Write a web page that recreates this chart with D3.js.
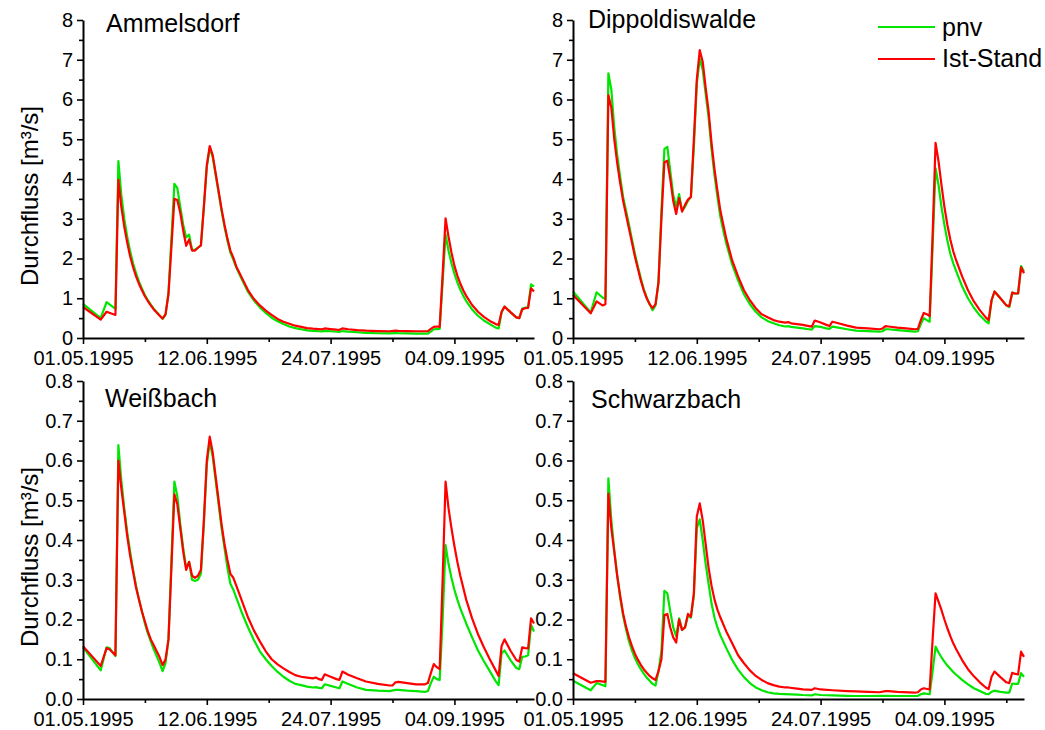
<!DOCTYPE html>
<html><head><meta charset="utf-8">
<script src="https://cdn.jsdelivr.net/npm/d3@7"></script>
<style>
body{margin:0;background:#fff}
svg{display:block;font-family:"Liberation Sans",Arial,sans-serif}
</style></head><body>
<svg id="chart" width="1045" height="730"></svg>
<script>
// ---------- data ----------
const startDate = "1995-05-01";
const endDate = "1995-10-01";
const majorTickDates = ["1995-05-01","1995-06-12","1995-07-24","1995-09-04"];
const minorTickDates = ["1995-05-22","1995-07-03","1995-08-14","1995-09-25"];
const topTicks = [0,1,2,3,4,5,6,7,8];
const topMinorTicks = [0.5,1.5,2.5,3.5,4.5,5.5,6.5,7.5];
const bottomTicks = [0,0.1,0.2,0.3,0.4,0.5,0.6,0.7,0.8];
const bottomMinorTicks = [0.05,0.15,0.25,0.35,0.45,0.55,0.65,0.75];
const panelNames = ["Ammelsdorf","Dippoldiswalde","Weißbach","Schwarzbach"];
const seriesNames = ["pnv","Ist-Stand"];
const yAxisTitle = "Durchfluss [m³/s]";

// [day offset from 01.05.1995, discharge m³/s]
const ammelsdorfPnv = [[0,0.86],[6,0.5],[8,0.9],[11,0.73],[12,4.45],[13,3.6],[14,3.0],[15,2.55],[16,2.18],[17,1.88],[18,1.63],[19,1.42],[20,1.24],[21,1.08],[22,0.95],[23,0.84],[24,0.74],[25,0.65],[26,0.57],[27,0.48],[28,0.58],[29,1.15],[30,2.5],[31,3.88],[32,3.77],[33,3.3],[34,2.85],[35,2.53],[36,2.6],[37,2.22],[38,2.22],[39,2.27],[40,2.33],[41,3.3],[42,4.3],[43,4.78],[44,4.55],[45,4.1],[46,3.65],[47,3.2],[48,2.8],[49,2.45],[50,2.15],[51,1.97],[52,1.77],[54,1.46],[56,1.16],[58,0.94],[60,0.77],[62,0.63],[64,0.51],[66,0.42],[68,0.35],[70,0.29],[72,0.25],[74,0.22],[76,0.19],[78,0.18],[80,0.17],[81,0.165],[82,0.18],[84,0.17],[86,0.16],[87,0.155],[88,0.175],[90,0.16],[93,0.145],[96,0.13],[100,0.12],[104,0.115],[106,0.125],[107,0.12],[110,0.115],[113,0.11],[116,0.11],[117,0.11],[118,0.16],[119,0.22],[120,0.225],[121,0.23],[122,1.4],[123,2.6],[124,2.2],[125,1.88],[126,1.62],[127,1.4],[128,1.22],[129,1.06],[130,0.93],[132,0.72],[134,0.56],[136,0.44],[138,0.35],[140,0.26],[141,0.24],[142,0.64],[143,0.79],[145,0.65],[147,0.52],[148,0.5],[149,0.74],[150,0.76],[151,0.78],[152,1.35],[153,1.3]];
const ammelsdorfIst = [[0,0.78],[6,0.46],[8,0.66],[11,0.58],[12,3.98],[13,3.3],[14,2.8],[15,2.4],[16,2.05],[17,1.78],[18,1.55],[19,1.36],[20,1.2],[21,1.05],[22,0.93],[23,0.82],[24,0.72],[25,0.64],[26,0.56],[27,0.49],[28,0.6],[29,1.1],[30,2.3],[31,3.5],[32,3.47],[33,3.15],[34,2.7],[35,2.32],[36,2.48],[37,2.2],[38,2.2],[39,2.27],[40,2.33],[41,3.3],[42,4.35],[43,4.83],[44,4.6],[45,4.15],[46,3.7],[47,3.25],[48,2.85],[49,2.5],[50,2.2],[51,2.02],[52,1.8],[54,1.5],[56,1.2],[58,0.98],[60,0.82],[62,0.69],[64,0.58],[66,0.48],[68,0.41],[70,0.36],[72,0.31],[74,0.28],[76,0.25],[78,0.235],[80,0.225],[81,0.22],[82,0.24],[84,0.225],[86,0.21],[87,0.205],[88,0.24],[90,0.22],[93,0.2],[96,0.185],[100,0.175],[104,0.17],[106,0.185],[107,0.18],[110,0.175],[113,0.17],[116,0.17],[117,0.175],[118,0.23],[119,0.28],[120,0.29],[121,0.28],[122,1.6],[123,3.01],[124,2.55],[125,2.15],[126,1.82],[127,1.57],[128,1.37],[129,1.2],[130,1.06],[132,0.83],[134,0.66],[136,0.53],[138,0.43],[140,0.35],[141,0.33],[142,0.66],[143,0.79],[145,0.65],[147,0.52],[148,0.5],[149,0.72],[150,0.75],[151,0.76],[152,1.25],[153,1.17]];

const dippoldiswaldePnv = [[0,1.17],[6,0.64],[8,1.15],[10,1.02],[11,0.98],[12,6.66],[13,6.25],[14,5.3],[15,4.6],[16,4.05],[17,3.55],[18,3.2],[19,2.85],[20,2.48],[21,2.12],[22,1.8],[23,1.5],[24,1.23],[25,1.02],[26,0.85],[27,0.7],[28,0.82],[29,1.4],[30,3.2],[31,4.75],[32,4.81],[33,4.2],[34,3.6],[35,3.3],[36,3.62],[37,3.2],[38,3.3],[39,3.45],[40,3.55],[41,4.8],[42,6.4],[43,7.03],[44,6.75],[45,6.15],[46,5.55],[47,4.75],[48,4.1],[49,3.55],[50,3.05],[51,2.7],[52,2.38],[54,1.85],[56,1.45],[58,1.1],[60,0.85],[62,0.66],[64,0.52],[66,0.43],[68,0.37],[70,0.32],[72,0.29],[73,0.3],[74,0.28],[76,0.26],[78,0.24],[80,0.22],[81,0.21],[82,0.3],[84,0.28],[86,0.24],[87,0.23],[88,0.285],[90,0.26],[93,0.22],[96,0.185],[100,0.175],[104,0.16],[105,0.17],[106,0.22],[107,0.22],[110,0.2],[113,0.18],[116,0.16],[117,0.17],[118,0.35],[119,0.5],[120,0.45],[121,0.41],[122,2.3],[123,4.27],[124,3.85],[125,3.3],[126,2.85],[127,2.45],[128,2.12],[129,1.88],[130,1.68],[132,1.3],[134,1.0],[136,0.76],[138,0.57],[140,0.42],[141,0.37],[142,0.95],[143,1.17],[145,1.0],[147,0.82],[148,0.78],[149,1.14],[150,1.12],[151,1.12],[152,1.81],[153,1.67]];
const dippoldiswaldeIst = [[0,1.08],[6,0.62],[8,0.92],[10,0.82],[11,0.85],[12,6.11],[13,5.8],[14,5.0],[15,4.4],[16,3.9],[17,3.45],[18,3.1],[19,2.75],[20,2.4],[21,2.05],[22,1.75],[23,1.45],[24,1.2],[25,1.0],[26,0.85],[27,0.75],[28,0.85],[29,1.4],[30,3.0],[31,4.42],[32,4.46],[33,4.0],[34,3.45],[35,3.12],[36,3.52],[37,3.18],[38,3.35],[39,3.48],[40,3.55],[41,5.0],[42,6.5],[43,7.24],[44,6.95],[45,6.3],[46,5.7],[47,4.9],[48,4.25],[49,3.7],[50,3.2],[51,2.85],[52,2.5],[54,1.95],[56,1.55],[58,1.2],[60,0.95],[62,0.75],[64,0.6],[66,0.52],[68,0.45],[70,0.41],[72,0.385],[73,0.4],[74,0.37],[76,0.35],[78,0.33],[80,0.3],[81,0.285],[82,0.44],[84,0.39],[86,0.33],[87,0.3],[88,0.41],[90,0.37],[93,0.31],[96,0.26],[100,0.24],[104,0.22],[105,0.24],[106,0.3],[107,0.29],[110,0.26],[113,0.24],[116,0.22],[117,0.23],[118,0.45],[119,0.63],[120,0.6],[121,0.55],[122,2.6],[123,4.91],[124,4.45],[125,3.85],[126,3.3],[127,2.85],[128,2.48],[129,2.18],[130,1.95],[132,1.55],[134,1.2],[136,0.92],[138,0.7],[140,0.52],[141,0.45],[142,0.95],[143,1.17],[145,1.0],[147,0.82],[148,0.8],[149,1.14],[150,1.12],[151,1.12],[152,1.78],[153,1.63]];

const weissbachPnv = [[0,0.13],[6,0.072],[8,0.13],[9,0.128],[11,0.108],[12,0.639],[13,0.55],[14,0.48],[15,0.42],[16,0.37],[17,0.325],[18,0.285],[19,0.25],[20,0.22],[21,0.19],[22,0.165],[23,0.145],[24,0.125],[25,0.108],[26,0.09],[27,0.07],[28,0.09],[29,0.15],[30,0.35],[31,0.547],[32,0.51],[33,0.44],[34,0.38],[35,0.33],[36,0.345],[37,0.3],[38,0.297],[39,0.3],[40,0.315],[41,0.44],[42,0.59],[43,0.647],[44,0.61],[45,0.55],[46,0.49],[47,0.43],[48,0.38],[49,0.33],[50,0.29],[51,0.275],[52,0.255],[54,0.215],[56,0.18],[58,0.148],[60,0.12],[62,0.1],[64,0.083],[66,0.068],[68,0.056],[70,0.046],[72,0.038],[74,0.035],[76,0.031],[78,0.029],[79,0.03],[80,0.028],[81,0.027],[82,0.037],[84,0.033],[86,0.029],[87,0.027],[88,0.044],[90,0.038],[93,0.029],[96,0.023],[100,0.021],[104,0.02],[106,0.023],[107,0.023],[110,0.021],[113,0.02],[116,0.018],[117,0.02],[118,0.04],[119,0.056],[120,0.05],[121,0.048],[122,0.2],[123,0.387],[124,0.34],[125,0.305],[126,0.275],[127,0.25],[128,0.228],[130,0.19],[132,0.155],[134,0.122],[136,0.095],[138,0.07],[140,0.045],[141,0.035],[142,0.115],[143,0.122],[145,0.098],[147,0.078],[148,0.075],[149,0.106],[150,0.107],[151,0.11],[152,0.186],[153,0.17]];
const weissbachIst = [[0,0.133],[6,0.083],[8,0.128],[9,0.125],[11,0.11],[12,0.6],[13,0.53],[14,0.47],[15,0.41],[16,0.36],[17,0.32],[18,0.28],[19,0.25],[20,0.22],[21,0.195],[22,0.17],[23,0.15],[24,0.135],[25,0.12],[26,0.105],[27,0.085],[28,0.1],[29,0.15],[30,0.33],[31,0.515],[32,0.49],[33,0.43],[34,0.37],[35,0.325],[36,0.345],[37,0.31],[38,0.305],[39,0.31],[40,0.325],[41,0.45],[42,0.6],[43,0.66],[44,0.62],[45,0.56],[46,0.5],[47,0.44],[48,0.39],[49,0.35],[50,0.315],[51,0.305],[52,0.285],[54,0.245],[56,0.205],[58,0.172],[60,0.145],[62,0.12],[64,0.1],[66,0.087],[68,0.077],[70,0.068],[72,0.06],[74,0.056],[76,0.054],[78,0.052],[79,0.054],[80,0.05],[81,0.048],[82,0.062],[84,0.056],[86,0.05],[87,0.048],[88,0.069],[90,0.061],[93,0.052],[96,0.044],[100,0.038],[104,0.034],[105,0.034],[106,0.042],[107,0.043],[110,0.04],[113,0.037],[116,0.037],[117,0.04],[118,0.065],[119,0.088],[120,0.08],[121,0.075],[122,0.3],[123,0.547],[124,0.48],[125,0.43],[126,0.385],[127,0.345],[128,0.31],[130,0.25],[132,0.203],[134,0.163],[136,0.13],[138,0.1],[140,0.072],[141,0.058],[142,0.133],[143,0.15],[145,0.122],[147,0.098],[148,0.094],[149,0.13],[150,0.128],[151,0.127],[152,0.203],[153,0.19]];

const schwarzbachPnv = [[0,0.046],[6,0.022],[8,0.04],[9,0.038],[11,0.032],[12,0.555],[13,0.45],[14,0.375],[15,0.31],[16,0.255],[17,0.21],[18,0.175],[19,0.145],[20,0.122],[21,0.103],[22,0.088],[23,0.075],[24,0.064],[25,0.054],[26,0.046],[27,0.038],[28,0.034],[29,0.07],[30,0.12],[31,0.272],[32,0.266],[33,0.22],[34,0.18],[35,0.158],[36,0.203],[37,0.174],[38,0.18],[39,0.21],[40,0.205],[41,0.26],[42,0.43],[43,0.452],[44,0.4],[45,0.34],[46,0.29],[47,0.24],[48,0.205],[49,0.18],[50,0.16],[52,0.128],[54,0.098],[56,0.074],[58,0.055],[60,0.04],[62,0.029],[64,0.022],[66,0.017],[68,0.014],[70,0.013],[72,0.0125],[76,0.011],[78,0.01],[81,0.009],[82,0.012],[84,0.01],[88,0.009],[93,0.008],[96,0.0075],[100,0.0075],[106,0.008],[110,0.0075],[116,0.0075],[117,0.008],[118,0.012],[119,0.014],[121,0.012],[122,0.07],[123,0.132],[124,0.117],[125,0.105],[126,0.094],[127,0.084],[128,0.076],[129,0.068],[130,0.061],[132,0.048],[134,0.037],[136,0.027],[138,0.02],[140,0.013],[141,0.012],[142,0.018],[143,0.021],[145,0.018],[147,0.016],[148,0.016],[149,0.039],[150,0.038],[151,0.038],[152,0.065],[153,0.056]];
const schwarzbachIst = [[0,0.065],[6,0.041],[8,0.045],[9,0.045],[11,0.043],[12,0.517],[13,0.43],[14,0.37],[15,0.31],[16,0.26],[17,0.215],[18,0.182],[19,0.155],[20,0.133],[21,0.114],[22,0.099],[23,0.086],[24,0.075],[25,0.066],[26,0.058],[27,0.052],[28,0.048],[29,0.07],[30,0.1],[31,0.211],[32,0.214],[33,0.18],[34,0.155],[35,0.142],[36,0.2],[37,0.174],[38,0.18],[39,0.214],[40,0.207],[41,0.266],[42,0.459],[43,0.492],[44,0.45],[45,0.39],[46,0.33],[47,0.285],[48,0.25],[49,0.225],[50,0.205],[52,0.17],[54,0.14],[56,0.11],[58,0.09],[60,0.072],[62,0.058],[64,0.048],[66,0.04],[68,0.035],[70,0.031],[72,0.029],[73,0.029],[76,0.026],[78,0.024],[81,0.023],[82,0.027],[84,0.024],[88,0.022],[93,0.02],[96,0.019],[100,0.018],[104,0.017],[106,0.02],[107,0.02],[110,0.018],[116,0.016],[117,0.017],[118,0.024],[119,0.027],[121,0.024],[122,0.15],[123,0.266],[124,0.245],[125,0.224],[126,0.2],[127,0.178],[128,0.158],[129,0.14],[130,0.125],[132,0.098],[134,0.075],[136,0.057],[138,0.042],[140,0.029],[141,0.025],[142,0.056],[143,0.069],[145,0.055],[147,0.042],[148,0.04],[149,0.066],[150,0.063],[151,0.062],[152,0.119],[153,0.106]];

// ---------- layout ----------
const GREEN = "#00e600", RED = "#ff0000";
const parse = d3.utcParse("%Y-%m-%d");
const t0 = parse(startDate);
const fmtDate = d3.utcFormat("%d.%m.%Y");
const svg = d3.select("#chart");

const panels = [
  {name: panelNames[0], pnv: ammelsdorfPnv, ist: ammelsdorfIst, x0: 83, x1: 534, yT: 20, yB: 338, ticks: topTicks, minor: topMinorTicks, fmt: d3.format("d"), tx: 106, ty: 32, ylab: true},
  {name: panelNames[1], pnv: dippoldiswaldePnv, ist: dippoldiswaldeIst, x0: 573, x1: 1024, yT: 20, yB: 338, ticks: topTicks, minor: topMinorTicks, fmt: d3.format("d"), tx: 588, ty: 28, ylab: false},
  {name: panelNames[2], pnv: weissbachPnv, ist: weissbachIst, x0: 83, x1: 534, yT: 381, yB: 699, ticks: bottomTicks, minor: bottomMinorTicks, fmt: d3.format(".1f"), tx: 105, ty: 407, ylab: true},
  {name: panelNames[3], pnv: schwarzbachPnv, ist: schwarzbachIst, x0: 573, x1: 1024, yT: 381, yB: 699, ticks: bottomTicks, minor: bottomMinorTicks, fmt: d3.format(".1f"), tx: 591, ty: 408, ylab: false}
];

panels.forEach(p => {
  const x = d3.scaleUtc().domain([t0, parse(endDate)]).range([p.x0, p.x1]);
  const y = d3.scaleLinear().domain([p.ticks[0], p.ticks[p.ticks.length-1]]).range([p.yB, p.yT]);
  const g = svg.append("g");

  const line = d3.line().x(d => x(d3.utcDay.offset(t0, d[0]))).y(d => y(d[1]));
  [[p.pnv, GREEN], [p.ist, RED]].forEach(([data, col]) => {
    g.append("path").attr("d", line(data)).attr("fill", "none")
      .attr("stroke", col).attr("stroke-width", 2.2).attr("stroke-linejoin", "round");
  });

  const xMinor = g.append("g").attr("transform", `translate(0,${p.yB})`)
    .call(d3.axisBottom(x).tickValues(minorTickDates.map(parse)).tickSize(4).tickFormat(""));
  xMinor.select(".domain").remove();
  const yMinor = g.append("g").attr("transform", `translate(${p.x0},0)`)
    .call(d3.axisLeft(y).tickValues(p.minor).tickSize(4).tickFormat(""));
  yMinor.select(".domain").remove();

  const xa = g.append("g").attr("transform", `translate(0,${p.yB})`)
    .call(d3.axisBottom(x).tickValues(majorTickDates.map(parse)).tickSize(6).tickSizeOuter(0).tickPadding(6.5).tickFormat(fmtDate));
  const ya = g.append("g").attr("transform", `translate(${p.x0},0)`)
    .call(d3.axisLeft(y).tickValues(p.ticks).tickSize(6).tickSizeOuter(0).tickPadding(4).tickFormat(p.fmt));

  [xa, ya, xMinor, yMinor].forEach(a => {
    a.selectAll("text").attr("font-size", 20).attr("font-family", "Liberation Sans, Arial, sans-serif").attr("fill", "#000");
    a.selectAll("line").attr("stroke", "#000").attr("stroke-width", 1.6);
    a.select(".domain").attr("stroke", "#000").attr("stroke-width", 2);
  });

  g.append("text").attr("x", p.tx).attr("y", p.ty).attr("font-size", 25).text(p.name);

  if (p.ylab) {
    g.append("text").attr("transform", `translate(38,${(p.yT + p.yB)/2 + 17}) rotate(-90)`)
      .attr("text-anchor", "middle").attr("font-size", 24).text(yAxisTitle);
  }
});

// legend
const legend = svg.append("g");
[[seriesNames[0], GREEN, 27, 36], [seriesNames[1], RED, 59, 67]].forEach(([label, col, ly, ty]) => {
  legend.append("line").attr("x1", 878).attr("x2", 935).attr("y1", ly).attr("y2", ly)
    .attr("stroke", col).attr("stroke-width", 2.2);
  legend.append("text").attr("x", 942).attr("y", ty).attr("font-size", 25).text(label);
});
</script>
</body></html>
